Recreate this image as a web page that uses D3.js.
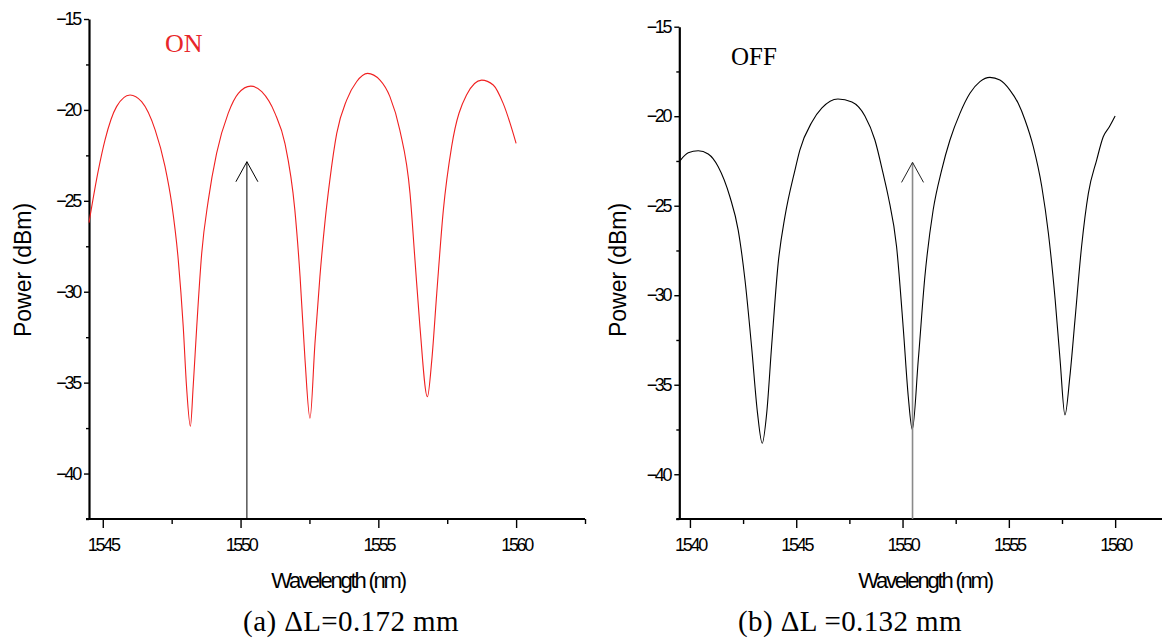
<!DOCTYPE html>
<html><head><meta charset="utf-8">
<script src="https://cdn.jsdelivr.net/npm/d3@7"></script>
<style>body{margin:0;background:#fff} svg{display:block}</style>
</head><body><svg id="c" width="1162" height="640"></svg>
<script>
// ---- data ----
const onWavelength = [1544.5,1544.84,1545.08,1545.5,1545.99,1546.41,1546.9,1547.26,1547.5,1547.74,1547.92,1548.04,1548.18,1548.28,1548.41,1548.59,1548.83,1549.13,1549.55,1549.92,1550.37,1550.77,1551.25,1551.61,1551.97,1552.16,1552.34,1552.52,1552.7,1552.88,1553.07,1553.24,1553.49,1553.85,1554.21,1554.61,1555.06,1555.42,1555.78,1556.15,1556.33,1556.51,1556.78,1556.94,1557.12,1557.36,1557.66,1558.2,1558.75,1559.17,1559.53,1560.0];
const onPower = [-26.2,-23.31,-21.66,-19.82,-19.18,-19.55,-21.1,-23.12,-25.14,-28.26,-31.92,-35.23,-37.4,-35.23,-31.92,-27.89,-24.96,-22.39,-20.19,-19.09,-18.69,-19.0,-20.19,-21.84,-25.5,-29.17,-33.76,-36.96,-32.84,-29.17,-26.06,-23.86,-21.29,-19.46,-18.45,-17.99,-18.36,-19.27,-21.11,-24.59,-28.26,-31.92,-35.78,-33.76,-30.09,-25.5,-22.02,-19.18,-18.36,-18.63,-19.64,-21.84];

const offWavelength = [1539.53,1539.92,1540.39,1540.86,1541.33,1541.88,1542.27,1542.59,1542.9,1543.18,1543.4,1543.61,1543.84,1544.15,1544.47,1544.94,1545.17,1545.74,1546.21,1546.96,1547.62,1548.23,1548.7,1549.08,1549.33,1549.72,1550.04,1550.27,1550.46,1550.74,1551.05,1551.44,1551.84,1552.23,1552.7,1553.17,1553.64,1554.11,1554.58,1555.05,1555.44,1555.76,1556.15,1556.55,1556.86,1557.18,1557.41,1557.64,1557.87,1558.11,1558.42,1558.74,1559.13,1559.44,1559.73,1560.0];
const offPower = [-22.49,-22.04,-21.93,-22.11,-22.82,-24.5,-26.36,-29.15,-32.88,-36.6,-38.27,-36.6,-32.88,-28.22,-25.6,-23.01,-21.89,-20.32,-19.54,-19.04,-19.21,-19.99,-21.33,-23.17,-24.5,-27.29,-31.94,-35.67,-37.5,-33.62,-28.97,-25.24,-23.01,-21.33,-19.84,-18.72,-18.07,-17.83,-17.98,-18.54,-19.28,-20.21,-21.7,-23.94,-26.54,-30.27,-33.62,-36.69,-34.55,-31.39,-27.29,-24.31,-22.45,-21.15,-20.59,-19.99];

const yTickValues = [-15,-20,-25,-30,-35,-40];
const yMinorValues = [-17.5,-22.5,-27.5,-32.5,-37.5,-42.5];
const xTicksA = [1545,1550,1555,1560];
const xMinorA = [1547.5,1552.5,1557.5,1562.5];
const xTicksB = [1540,1545,1550,1555,1560];
const xMinorB = [1542.5,1547.5,1552.5,1557.5,1562.5];
const arrowWavelength = [1550.23, 1550.47];
const arrowTopPower = [-22.85, -22.58];
const stateLabels = ["ON", "OFF"];
const captions = ["(a) \u0394L=0.172 mm", "(b) \u0394L =0.132 mm"];
const xTitle = "Wavelength (nm)";
const yTitle = "Power (dBm)";

// ---- drawing ----
const svg = d3.select("#c");

const panels = [
  {xd:[1544.5,1562.5], xr:[89,585], yd:[-42.5,-15], yr:[519,19], wl:onWavelength, pw:onPower, color:"#f02020",
   xt:xTicksA, xm:xMinorA, arrowColor:"#000", arrowStem:"#000", stemW:1,
   label:{x:165,y:52,fill:"#e8262a",size:26}, cap:{x:351,y:631}, xtitle:{x:338,y:588}, ytitle:{x:31,y:270}},
  {xd:[1539.5,1562.5], xr:[679.3,1168.3], yd:[-42.5,-15], yr:[519,26.7], wl:offWavelength, pw:offPower, color:"#000",
   xt:xTicksB, xm:xMinorB, arrowColor:"#222", arrowStem:"#8a8a8a", stemW:1.6,
   label:{x:731,y:65,fill:"#000",size:25}, cap:{x:850,y:631}, xtitle:{x:925,y:588}, ytitle:{x:626,y:270}}
];

panels.forEach((p, i) => {
  const x = d3.scaleLinear().domain(p.xd).range(p.xr);
  const y = d3.scaleLinear().domain(p.yd).range(p.yr);
  const g = svg.append("g");

  // y axis
  g.append("g").attr("transform", `translate(${p.xr[0]},0)`)
    .call(d3.axisLeft(y).tickValues(yTickValues).tickSize(5).tickPadding(4).tickSizeOuter(0).tickFormat(d3.format("d")));
  g.append("g").attr("transform", `translate(${p.xr[0]},0)`)
    .call(d3.axisLeft(y).tickValues(yMinorValues).tickSize(3).tickFormat("").tickSizeOuter(0))
    .select(".domain").remove();
  // x axis
  const xa = g.append("g").attr("transform", `translate(0,${p.yr[0]})`)
    .call(d3.axisBottom(x).tickValues(p.xt).tickSize(9).tickPadding(10).tickSizeOuter(0).tickFormat(d3.format("d")));
  g.append("g").attr("transform", `translate(0,${p.yr[0]})`)
    .call(d3.axisBottom(x).tickValues(p.xm).tickSize(5).tickFormat("").tickSizeOuter(0))
    .select(".domain").remove();

  g.selectAll(".domain").attr("stroke", "#000").attr("stroke-width", 2.2);
  g.selectAll(".tick line").attr("stroke", "#000").attr("stroke-width", 1.4);
  g.selectAll(".tick text").attr("fill", "#000")
    .style("font-family", "'Liberation Sans', Arial, sans-serif").style("font-size", "18px")
    .style("letter-spacing", "-2.3px");
  xa.select(".domain").attr("d", `M${p.xr[0]-3},0H${p.xr[1]}`);

  // curve
  const pts = p.wl.map((w, k) => [w, p.pw[k]]);
  g.append("path").datum(pts)
    .attr("fill", "none").attr("stroke", p.color).attr("stroke-width", 1.1)
    .attr("d", d3.line().curve(d3.curveMonotoneX).x(d => x(d[0])).y(d => y(d[1])));

  // arrow
  const ax = x(arrowWavelength[i]), ay = y(arrowTopPower[i]);
  g.append("line").attr("x1", ax).attr("x2", ax).attr("y1", p.yr[0]).attr("y2", ay)
    .attr("stroke", p.arrowStem).attr("stroke-width", p.stemW);
  g.append("path").attr("d", `M${ax-11},${ay+20}L${ax},${ay}L${ax+11},${ay+20}`)
    .attr("fill", "none").attr("stroke", p.arrowColor).attr("stroke-width", 1);

  // texts
  g.append("text").attr("x", p.label.x).attr("y", p.label.y).text(stateLabels[i])
    .attr("fill", p.label.fill).style("font-family", "'Liberation Serif', 'Times New Roman', serif")
    .style("font-size", p.label.size + "px");
  g.append("text").attr("x", p.xtitle.x).attr("y", p.xtitle.y).attr("text-anchor", "middle").text(xTitle)
    .style("font-family", "'Liberation Sans', Arial, sans-serif").style("font-size", "22px")
    .style("letter-spacing", "-2.2px");
  g.append("text").attr("transform", `translate(${p.ytitle.x},${p.ytitle.y}) rotate(-90)`)
    .attr("text-anchor", "middle").text(yTitle)
    .style("font-family", "'Liberation Sans', Arial, sans-serif").style("font-size", "23px");
  g.append("text").attr("x", p.cap.x).attr("y", p.cap.y).attr("text-anchor", "middle").text(captions[i])
    .style("font-family", "'Liberation Serif', 'Times New Roman', serif").style("font-size", "29px")
    .style("letter-spacing", "0.4px");
});
</script></body></html>
